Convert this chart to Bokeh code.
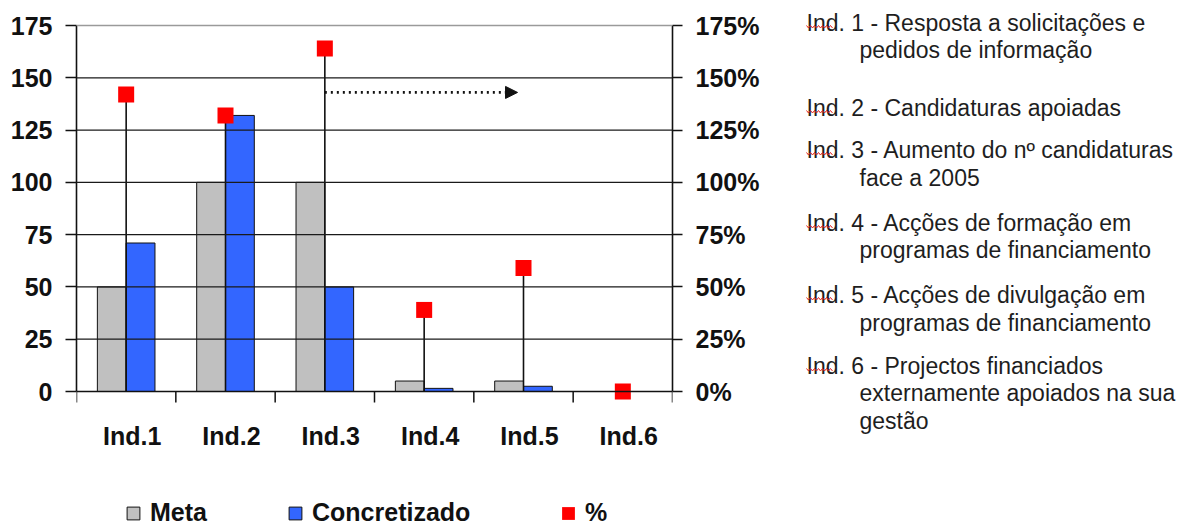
import numpy as np
from bokeh.plotting import figure
from bokeh.layouts import row
from bokeh.models import (ColumnDataSource, Range1d, LinearAxis, FixedTicker,
                          PrintfTickFormatter, Span, Arrow, NormalHead,
                          Legend, LegendItem)
from bokeh.core.properties import value
from bokeh.embed import file_html
from bokeh.resources import INLINE

# ---- data -------------------------------------------------------------
categories = ["Ind.1", "Ind.2", "Ind.3", "Ind.4", "Ind.5", "Ind.6"]
meta = [50, 100, 100, 5, 5, 0]
concretizado = [71, 132, 50, 1.5, 2.5, 0]
percent = [142, 132, 164, 39, 59, 0]
y_ticks = [0, 25, 50, 75, 100, 125, 150, 175]

notes = [
    ("Ind. 1 - Resposta a solicitações e", "pedidos de informação"),
    ("Ind. 2 - Candidaturas apoiadas",),
    ("Ind. 3 - Aumento do nº candidaturas", "face a 2005"),
    ("Ind. 4 - Acções de formação em", "programas de financiamento"),
    ("Ind. 5 - Acções de divulgação em", "programas de financiamento"),
    ("Ind. 6 - Projectos financiados", "externamente apoiados na sua", "gestão"),
]

# ---- layout constants (pixels) ----------------------------------------
FONT = "Liberation Sans"
INK = "#111111"
W_MAIN, W_NOTES, H = 790, 402, 526
TOP, AXIS_Y = 25, 391                      # 175-line and zero line, from the top
PX = (AXIS_Y - TOP) / y_ticks[-1]          # pixels per value unit
Y_MIN = -(H - AXIS_Y) / PX                 # frame reaches the bottom edge
Y_MAX = y_ticks[-1] + TOP / PX             # ... and the top edge
BAR_W = 0.29
centers = np.arange(len(categories)) + 0.5
label_pos = centers + 0.06
tick_len = 11 / PX
label_y = -44 / PX
arrow_from_x, arrow_to_x, arrow_y = 2.5, 4.44, 143

src = ColumnDataSource(dict(
    x=centers,
    x_meta=centers - BAR_W / 2,
    x_conc=centers + BAR_W / 2,
    meta=meta,
    conc=concretizado,
    pct=percent,
    zero=[0] * len(categories),
))

p = figure(width=W_MAIN, height=H, output_backend="svg", toolbar_location=None,
           x_range=Range1d(0, len(categories)), y_range=Range1d(Y_MIN, Y_MAX),
           x_axis_location=None, y_axis_location=None,
           min_border_left=76, min_border_right=118,
           min_border_top=0, min_border_bottom=0,
           background_fill_color="white", border_fill_color="white")
p.outline_line_color = None
p.extra_y_ranges = {"pct": Range1d(Y_MIN, Y_MAX)}
p.xgrid.visible = False
p.ygrid.visible = False

# horizontal grid lines
for t in y_ticks[1:-1]:
    p.add_layout(Span(location=t, dimension="width", line_color="#1a1a1a",
                      line_width=1.3))
p.add_layout(Span(location=y_ticks[-1], dimension="width", line_color="#9a9a9a",
                  line_width=1.5))

# value axes
left = LinearAxis(ticker=FixedTicker(ticks=y_ticks, minor_ticks=[]),
                  bounds=(0, y_ticks[-1]))
right = LinearAxis(y_range_name="pct", bounds=(0, y_ticks[-1]),
                   ticker=FixedTicker(ticks=y_ticks, minor_ticks=[]),
                   formatter=PrintfTickFormatter(format="%d%%"))
for ax in (left, right):
    ax.axis_line_color = INK
    ax.axis_line_width = 1.6
    ax.major_tick_line_color = INK
    ax.major_tick_line_width = 1.4
    ax.major_tick_in = 0
    ax.minor_tick_line_color = None
    ax.major_label_text_font = FONT
    ax.major_label_text_font_style = "bold"
    ax.major_label_text_font_size = "25px"
    ax.major_label_text_color = INK
    ax.major_label_standoff = 13
left.major_tick_out = 11
right.major_tick_out = 10
p.add_layout(left, "left")
p.add_layout(right, "right")

# category axis: zero line, boundary ticks and labels
p.add_layout(Span(location=0, dimension="width", line_color=INK, line_width=1.6))
bounds_x = list(range(len(categories) + 1))
p.segment(x0=bounds_x, y0=[0] * len(bounds_x), x1=bounds_x,
          y1=[-tick_len] * len(bounds_x), line_color=INK, line_width=1.5)
p.text(x=list(label_pos), y=[label_y] * len(categories), text=categories,
       text_font=value(FONT), text_font_style="bold", text_font_size="25px",
       text_color=INK, text_align="center", text_baseline="middle")

# bars
r_meta = p.vbar(x="x_meta", top="meta", bottom=0, width=BAR_W, source=src,
                fill_color="#c0c0c0", line_color=INK, line_width=1)
r_conc = p.vbar(x="x_conc", top="conc", bottom=0, width=BAR_W, source=src,
                fill_color="#3366ff", line_color=INK, line_width=1)

# legend swatch for the percentage series (zero-height, so nothing shows in the plot)
r_pct_key = p.vbar(x="x", top="zero", bottom="zero", width=BAR_W, source=src,
                   fill_color="#ff0000", line_color=None)

# drop lines and percentage markers
p.segment(x0="x", y0="zero", x1="x", y1="pct", source=src, y_range_name="pct",
          line_color=INK, line_width=1.6)
p.scatter(x="x", y="pct", source=src, y_range_name="pct", marker="square",
          size=16, fill_color="#ff0000", line_color=None)

# dotted arrow
p.add_layout(Arrow(end=NormalHead(size=12, fill_color=INK, line_color=INK),
                   x_start=arrow_from_x, y_start=arrow_y,
                   x_end=arrow_to_x, y_end=arrow_y,
                   line_color=INK, line_width=2.8, line_dash="2 4"))


def make_legend(label, renderer, loc):
    lg = Legend(items=[LegendItem(label=label, renderers=[renderer])],
                location=loc, orientation="horizontal",
                glyph_width=16, glyph_height=16, label_standoff=9,
                label_text_font=FONT, label_text_font_style="bold",
                label_text_font_size="25px", label_text_color=INK,
                padding=0, margin=0, border_line_color=None,
                background_fill_alpha=0)
    p.add_layout(lg, "center")


make_legend("Meta", r_meta, (49, -1))
make_legend("Concretizado", r_conc, (211, -1))
make_legend("%", r_pct_key, (484, -1))

# ---- notes panel ------------------------------------------------------
q = figure(width=W_NOTES, height=H, output_backend="svg", toolbar_location=None,
           x_range=Range1d(0, W_NOTES), y_range=Range1d(H, 0),
           x_axis_location=None, y_axis_location=None,
           min_border=0,
           background_fill_color="white", border_fill_color="white")
q.outline_line_color = None
q.xgrid.visible = False
q.ygrid.visible = False

baselines = [22, 49, 107, 149, 177, 222, 249, 294, 322, 365, 392, 420]
tx, ty, tt = [], [], []
squig_x, squig_y = [], []
k = 0
for block in notes:
    for j, line in enumerate(block):
        tx.append(16 if j == 0 else 69)
        ty.append(baselines[k])
        tt.append(line)
        if j == 0:
            xs = np.arange(16, 44, 2.0)
            squig_x.append(list(xs))
            squig_y.append([baselines[k] + (3 if i % 2 == 0 else 5.5) for i in range(len(xs))])
        k += 1

q.text(x=tx, y=ty, text=tt, text_font=value(FONT), text_font_size="23px",
       text_color="#1e1e1e", text_baseline="alphabetic", text_align="left")
q.multi_line(xs=squig_x, ys=squig_y, line_color="#e02020", line_width=1)

layout = row(p, q)
open("out.html", "w").write(file_html(layout, INLINE))
